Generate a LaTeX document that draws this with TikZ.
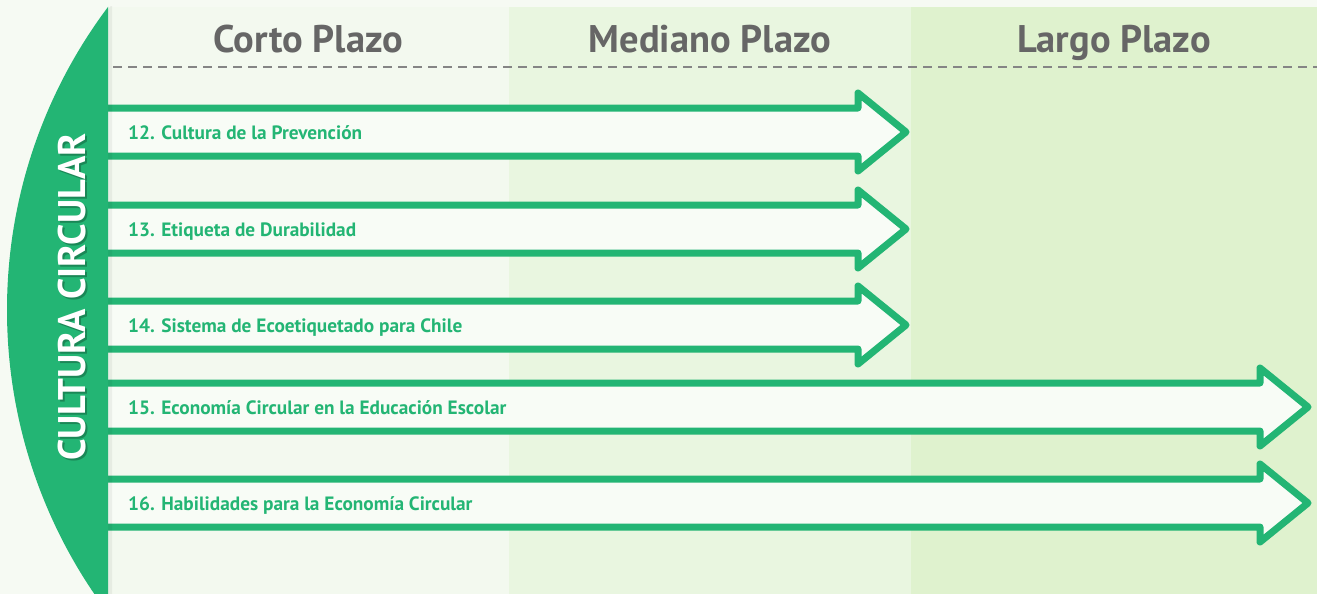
\documentclass[tikz,border=0pt]{standalone}
\usepackage{fontspec}
\setmainfont{PT Sans}
\usetikzlibrary{shadows}
\definecolor{ccgreen}{RGB}{35,181,116}
\definecolor{headgray}{RGB}{102,102,102}
\definecolor{pagebg}{RGB}{246,250,243}
\definecolor{colone}{RGB}{243,249,239}
\definecolor{coltwo}{RGB}{233,246,224}
\definecolor{colthree}{RGB}{223,242,206}
\definecolor{barfill}{RGB}{248,252,246}

\begin{document}
\begin{tikzpicture}[x=1pt,y=1pt,
  bar/.style={draw=ccgreen,line width=7pt,line join=round,fill=barfill,
    drop shadow={shadow xshift=1.5pt,shadow yshift=-3pt,opacity=.18}},
  item/.style={anchor=base west,inner sep=0pt,text=ccgreen,
    font=\bfseries\fontsize{19.3}{22}\selectfont},
  term/.style={anchor=base,inner sep=0pt,text=headgray,
    font=\bfseries\fontsize{38.5}{44}\selectfont}]
\useasboundingbox (0,0) rectangle (1317,-594);
\fill[pagebg] (0,0) rectangle (1317,-594);
\fill[colone] (108,-7) rectangle (509,-594);
\fill[coltwo] (509,-7) rectangle (911,-594);
\fill[colthree] (911,-7) rectangle (1317,-594);

\node (corto)   [term] at (308.5,-53) {Corto Plazo};
\node (mediano) [term] at (710,-53)   {Mediano Plazo};
\node (largo)   [term] at (1114,-53)  {Largo Plazo};
\draw[headgray!80,line width=1.5pt,dash pattern=on 9pt off 6pt] (113,-67) -- (1317,-67);

\draw[bar] (104,-108) -- (858,-108) -- (858,-93) -- (906,-132) -- (858,-171) -- (858,-156) -- (104,-156);
\draw[bar] (104,-205) -- (858,-205) -- (858,-190) -- (906,-229) -- (858,-268) -- (858,-253) -- (104,-253);
\draw[bar] (104,-301) -- (858,-301) -- (858,-286) -- (906,-325) -- (858,-364) -- (858,-349) -- (104,-349);
\draw[bar] (104,-383) -- (1260,-383) -- (1260,-368) -- (1308,-407) -- (1260,-446) -- (1260,-431) -- (104,-431);
\draw[bar] (104,-479) -- (1260,-479) -- (1260,-464) -- (1308,-503) -- (1260,-542) -- (1260,-527) -- (104,-527);

\node (a12) [item] at (128,-139) {12. Cultura de la Prevención};
\node (a13) [item] at (128,-236) {13. Etiqueta de Durabilidad};
\node (a14) [item] at (128,-332) {14. Sistema de Ecoetiquetado para Chile};
\node (a15) [item] at (128,-414) {15. Economía Circular en la Educación Escolar};
\node (a16) [item] at (128,-510) {16. Habilidades para la Economía Circular};

\begin{scope}
\clip (0,-7) rectangle (112,-594);
\fill[black,opacity=.05] (514,-310) circle[radius=505];
\clip (0,-7) rectangle (108,-594);
\fill[ccgreen] (512,-310) circle[radius=505];
\end{scope}
\node (shade) [rotate=90,anchor=base,inner sep=0pt,text=black,opacity=.25,
  font=\bfseries\fontsize{38.5}{44}\selectfont] at (87,-299) {CULTURA CIRCULAR};
\node (culture) [rotate=90,anchor=base,inner sep=0pt,text=white,
  font=\bfseries\fontsize{38.5}{44}\selectfont] at (85,-297) {CULTURA CIRCULAR};
\end{tikzpicture}
\end{document}
